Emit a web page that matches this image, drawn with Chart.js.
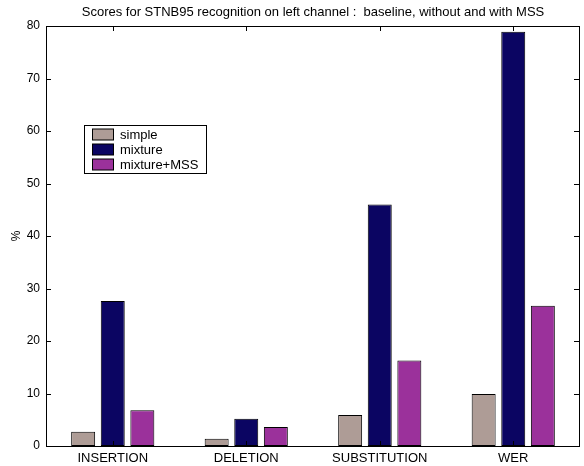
<!DOCTYPE html>
<html>
<head>
<meta charset="utf-8">
<script src="https://cdn.jsdelivr.net/npm/chart.js@4/dist/chart.umd.min.js"></script>
<style>
  html, body { margin: 0; padding: 0; background: #ffffff; }
  #wrap { width: 584px; height: 466px; position: relative; }
</style>
</head>
<body>
<div id="wrap"><canvas id="c" width="584" height="466"></canvas></div>
<script>
const categories = ["INSERTION", "DELETION", "SUBSTITUTION", "WER"];
const seriesNames = ["simple", "mixture", "mixture+MSS"];
const simpleValues = [2.7, 1.4, 5.9, 9.9];
const mixtureValues = [27.6, 5.2, 46.0, 78.9];
const mixtureMssValues = [6.8, 3.6, 16.3, 26.7];
const yTicks = [0, 10, 20, 30, 40, 50, 60, 70, 80];
const titleText = "Scores for STNB95 recognition on left channel :  baseline, without and with MSS";
const yTitle = "%";
const colors = ["#ae9c96", "#0b0562", "#9b319b"];

const FONT = "'Liberation Sans', Arial, Helvetica, sans-serif";

const framePlugin = {
  id: 'frame',
  afterDraw(chart) {
    const ctx = chart.ctx;
    const a = chart.chartArea;
    const xs = chart.scales.x, ys = chart.scales.y;
    ctx.save();
    ctx.strokeStyle = '#000';
    ctx.lineWidth = 1;
    // box
    ctx.strokeRect(Math.round(a.left) + 0.5, Math.round(a.top) + 0.5,
                   Math.round(a.right - a.left) - 1, Math.round(a.bottom - a.top));
    // y ticks (inward, both sides)
    const tl = 5;
    yTicks.forEach(v => {
      const y = Math.round(ys.getPixelForValue(v)) + 0.5;
      ctx.beginPath();
      ctx.moveTo(a.left, y); ctx.lineTo(a.left + tl, y);
      ctx.moveTo(a.right - 1, y); ctx.lineTo(a.right - 1 - tl, y);
      ctx.stroke();
    });
    // x ticks (inward, top and bottom)
    categories.forEach((c, i) => {
      const x = Math.round(xs.getPixelForValue(i)) + 0.5;
      ctx.beginPath();
      ctx.moveTo(x, a.bottom); ctx.lineTo(x, a.bottom - tl);
      ctx.moveTo(x, a.top); ctx.lineTo(x, a.top + tl);
      ctx.stroke();
    });
    // title
    ctx.fillStyle = '#000';
    ctx.font = '13px ' + FONT;
    ctx.textAlign = 'center';
    ctx.textBaseline = 'middle';
    ctx.fillText(titleText, (a.left + a.right) / 2, 12);
    // y title
    ctx.save();
    ctx.translate(17, (a.top + a.bottom) / 2);
    ctx.rotate(-Math.PI / 2);
    ctx.font = '12px ' + FONT;
    ctx.fillText(yTitle, 0, 0);
    ctx.restore();
    // legend
    const lx = 84.5, ly = 125.5, lw = 122, lh = 48;
    ctx.fillStyle = '#fff';
    ctx.fillRect(lx, ly, lw, lh);
    ctx.strokeRect(lx, ly, lw, lh);
    ctx.font = '13px ' + FONT;
    ctx.textAlign = 'left';
    chart.data.datasets.forEach((ds, i) => {
      const cy = ly + 9 + i * 15;
      ctx.fillStyle = ds.backgroundColor;
      ctx.fillRect(92.5, cy - 5.5, 21, 11);
      ctx.strokeStyle = '#000';
      ctx.strokeRect(92.5, cy - 5.5, 21, 11);
      ctx.fillStyle = '#000';
      ctx.fillText(ds.label, 120, cy + 0.5);
    });
    ctx.restore();
  }
};

new Chart(document.getElementById('c'), {
  type: 'bar',
  data: {
    labels: categories,
    datasets: [
      { label: seriesNames[0], data: simpleValues, backgroundColor: colors[0] },
      { label: seriesNames[1], data: mixtureValues, backgroundColor: colors[1] },
      { label: seriesNames[2], data: mixtureMssValues, backgroundColor: colors[2] }
    ].map(d => Object.assign(d, { borderColor: '#000', borderWidth: 1, borderSkipped: false,
                                 categoryPercentage: 0.665, barPercentage: 0.81 }))
  },
  options: {
    responsive: false,
    animation: false,
    layout: { padding: { top: 26, right: 4, left: 0, bottom: 0 } },
    plugins: { legend: { display: false }, title: { display: false }, tooltip: { enabled: false } },
    scales: {
      x: {
        offset: true,
        grid: { display: false, drawTicks: false },
        border: { display: false },
        ticks: { color: '#000', font: { family: FONT, size: 13 }, padding: 5, maxRotation: 0 },
        afterFit(s) { s.height = 20; }
      },
      y: {
        min: 0, max: 80,
        grid: { display: false, drawTicks: false },
        border: { display: false },
        afterBuildTicks(s) { s.ticks = yTicks.map(v => ({ value: v })); },
        ticks: { color: '#000', font: { family: FONT, size: 12 }, padding: 6 },
        afterFit(s) { s.width = 46; }
      }
    }
  },
  plugins: [framePlugin]
});
</script>
</body>
</html>
